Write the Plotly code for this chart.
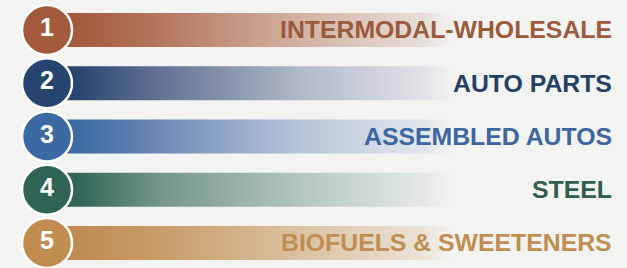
import plotly.graph_objects as go

# ---- data ----
ranks = [1, 2, 3, 4, 5]
categories = ["INTERMODAL-WHOLESALE", "AUTO PARTS", "ASSEMBLED AUTOS", "STEEL", "BIOFUELS & SWEETENERS"]

# ---- styles ----
circle_colors = ["#a35a3c", "#254570", "#3a69a3", "#2f6456", "#c08c50"]
text_colors = ["#9c5a3c", "#233f66", "#3b66a0", "#2e5c4f", "#c08e50"]
mid1_colors = ["#b3735a", "#5e6e92", "#6986b4", "#6f9287", "#c89a66"]
mid2_colors = ["#d3b2a3", "#b2bac8", "#b8c6da", "#b5c7c1", "#dcc2a2"]
light_colors = ["#e6dfdb", "#e0e3e7", "#e1e6ec", "#e3e9e7", "#ebe3d8"]
bg = "#f3f3f1"
bar_x0, bar_x1 = 47, 452
circle_x, label_x = 47, 614
half_h = 0.32

fig = go.Figure()
for r, c, m1, m2, l in zip(ranks, circle_colors, mid1_colors, mid2_colors, light_colors):
    fig.add_trace(go.Scatter(
        x=[bar_x0, bar_x1, bar_x1, bar_x0, bar_x0],
        y=[r - half_h, r - half_h, r + half_h, r + half_h, r - half_h],
        mode="lines", line=dict(width=0), fill="toself",
        fillgradient=dict(type="horizontal",
                          colorscale=[[0, c], [0.07, c], [0.26, m1], [0.63, m2], [0.93, l], [1, bg]]),
        hoverinfo="skip", showlegend=False))

fig.add_trace(go.Scatter(
    x=[circle_x] * len(ranks), y=ranks, mode="markers+text",
    marker=dict(size=50, color=circle_colors, line=dict(color="white", width=2.5)),
    text=[str(r) for r in ranks], textposition="middle center",
    textfont=dict(family="Liberation Sans, Arial", size=25, color="white", weight="bold"),
    hoverinfo="skip", showlegend=False))

for r, cat, tc in zip(ranks, categories, text_colors):
    fig.add_annotation(x=label_x, y=r, text=cat, showarrow=False, xanchor="right",
                       yanchor="middle",
                       font=dict(family="Liberation Sans, Arial", size=24.8, color=tc, weight="bold"))

fig.update_layout(
    width=627, height=268, margin=dict(l=0, r=0, t=0, b=0),
    paper_bgcolor=bg, plot_bgcolor=bg,
    xaxis=dict(range=[0, 627], visible=False, fixedrange=True),
    yaxis=dict(range=[5.47, 0.437], visible=False, fixedrange=True),
)
fig.write_html("out.html", config={"displayModeBar": False},
               post_script="document.body.style.margin='0px';document.body.style.overflow='hidden';")
